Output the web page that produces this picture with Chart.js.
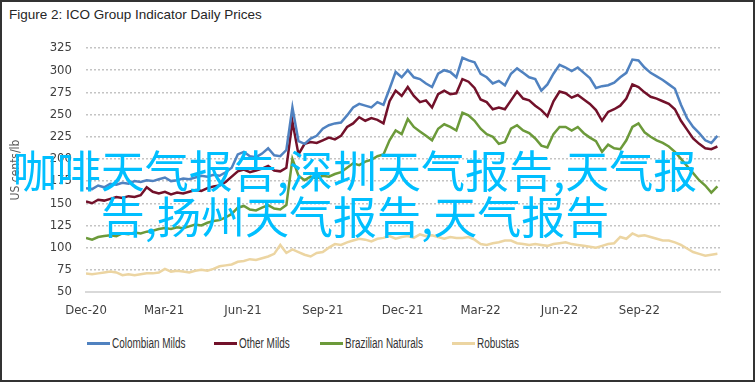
<!DOCTYPE html>
<html>
<head>
<meta charset="utf-8">
<script src="https://cdn.jsdelivr.net/npm/chart.js@4.4.1/dist/chart.umd.min.js"></script>
<style>
  html, body { margin: 0; padding: 0; background: #fff; }
  #page { position: relative; width: 755px; height: 382px; overflow: hidden; background: #fff; }
  #frame { position: absolute; left: 0; top: 0; width: 755px; height: 382px; box-sizing: border-box;
           border: 2px solid #333; pointer-events: none; z-index: 5; }
  #title { position: absolute; left: 9px; top: 7px; font: 13.5px 'Liberation Sans', sans-serif; color: #262626; }
  #chartBox { position: absolute; left: 0; top: 0; width: 755px; height: 330px; }
  #legend { position: absolute; left: 0; top: 334px; width: 755px; height: 18px; }
  .item { position: absolute; top: 0; height: 18px; display: flex; align-items: center;
          font: 14px 'Liberation Sans', sans-serif; color: #333; white-space: nowrap; }
  .swatch { width: 23px; height: 3px; margin-right: 2px; flex: none; }
  .label { display: inline-block; transform: scaleX(0.71); transform-origin: left center; }
  #overlay { position: absolute; left: 0; top: 146px; width: 710px; text-align: center; z-index: 4;
             font: 44px/46px 'Noto Sans CJK SC', sans-serif; color: #00bfff; white-space: normal; }
</style>
</head>
<body>
<div id="page">
  <div id="title">Figure 2: ICO Group Indicator Daily Prices</div>
  <div id="chartBox"><canvas id="prices"></canvas></div>
  <div id="legend"></div>
  <div id="overlay">咖啡天气报告,深圳天气报告,天气报告,扬州天气报告,天气报告</div>
  <div id="frame"></div>
</div>
<script>
// weekly readings, first point = 1 Dec 2020
const colombianMilds = [
  167,166,170,168,172,171,173,172,175,174,176,175,177,179,175,176,178,177,179,181,180,182,181,185,190,205,208,203,202,206,212,204,203,210,258,220,
  217,223,226,234,238,240,241,249,258,262,260,258,264,261,279,298,292,300,292,290,285,281,296,300,298,292,314,311,309,296,292,285,288,283,296,
  302,297,292,290,277,284,296,306,303,299,303,297,291,280,282,283,286,292,297,312,311,303,297,293,289,284,279,261,246,236,229,221,218,226
];
const otherMilds = [
  152,150,154,153,155,157,156,158,157,159,168,163,161,163,160,162,161,163,165,164,167,169,170,174,180,186,188,185,187,189,192,187,186,190,242,205,
  217,219,218,221,224,222,226,236,240,247,243,246,244,240,265,277,271,281,271,264,266,258,273,277,273,274,290,287,280,267,264,256,258,256,266,
  276,268,266,260,255,248,265,276,274,269,272,267,262,255,243,253,256,260,268,284,281,275,270,268,265,262,256,243,233,223,217,212,211,214
];
const brazilianNaturals = [
  111,109,112,113,114,113,116,115,117,116,118,119,121,122,121,123,122,124,126,125,128,130,131,134,138,145,147,143,142,145,148,144,143,148,200,181,
  176,180,178,181,180,183,185,190,195,193,197,199,203,205,221,232,228,245,236,231,226,221,234,239,236,232,252,249,243,234,228,225,217,219,234,
  238,232,229,223,215,213,228,236,236,232,236,229,224,220,208,216,212,211,221,236,240,230,225,221,218,214,208,200,192,184,176,170,162,169
];
const robustas = [
  71,70,71,72,73,72,69,70,69,70,71,71,72,76,73,74,73,72,74,75,74,76,79,80,81,84,85,87,86,88,90,93,103,94,98,95,
  92,90,94,95,100,104,103,106,108,110,109,107,110,111,113,110,112,113,111,115,113,114,112,110,112,111,111,112,109,104,103,105,106,108,108,
  105,104,103,104,103,102,104,105,106,104,103,102,101,100,102,104,105,112,110,116,113,114,112,110,108,108,106,103,99,95,93,91,92,93
];

const seriesNames = ['Colombian Milds', 'Other Milds', 'Brazilian Naturals', 'Robustas'];
const seriesValues = [colombianMilds, otherMilds, brazilianNaturals, robustas];
const seriesColors = ['#5082c0', '#72112a', '#6c9a3a', '#ecd5a2'];

// x axis ticks: days after 1 Dec 2020
const tickDays = [0, 90, 181, 273, 365, 455, 546, 638];
const tickLabels = ['Dec-20', 'Mar-21', 'Jun-21', 'Sep-21', 'Dec-21', 'Mar-22', 'Jun-22', 'Sep-22'];
const DAYS_PER_POINT = 7;

const axisFont = { family: "'Liberation Sans Narrow', 'DejaVu Sans Condensed', 'Liberation Sans', sans-serif", size: 13 };

const datasets = seriesNames.map((name, s) => ({
  label: name,
  data: seriesValues[s].map((v, i) => ({ x: i * DAYS_PER_POINT, y: v })),
  borderColor: seriesColors[s],
  backgroundColor: seriesColors[s],
  borderWidth: 2.5,
  pointRadius: 0,
  tension: 0,
  fill: false
}));

new Chart(document.getElementById('prices'), {
  type: 'line',
  data: { datasets },
  options: {
    responsive: true,
    maintainAspectRatio: false,
    animation: false,
    layout: { padding: { left: 0, right: 35, top: 48, bottom: 10 } },
    plugins: { legend: { display: false }, tooltip: { enabled: false } },
    scales: {
      x: {
        type: 'linear',
        min: 0,
        max: 731,
        grid: { display: false, drawTicks: false },
        border: { display: true, color: '#d9d9d9', width: 2 },
        ticks: {
          padding: 11,
          color: '#404040',
          font: axisFont,
          autoSkip: false,
          maxRotation: 0,
          callback: (v) => tickLabels[tickDays.indexOf(v)] || ''
        },
        afterBuildTicks: (scale) => { scale.ticks = tickDays.map(d => ({ value: d })); },
        afterFit: (scale) => { scale.height = 28; }
      },
      y: {
        min: 50,
        max: 325,
        ticks: { stepSize: 25, padding: 14, color: '#404040', font: axisFont },
        grid: {
          drawTicks: false,
          lineWidth: 1.5,
          color: (ctx) => ctx.tick && ctx.tick.value === 50 ? 'rgba(0,0,0,0)' : '#c4c4c4'
        },
        border: { display: false, dash: [2, 2] },
        title: {
          display: true,
          text: 'US cents/lb',
          color: '#595959',
          font: { family: "'Liberation Sans Narrow', 'DejaVu Sans Condensed', 'Liberation Sans', sans-serif", size: 12 },
          padding: { top: 9, bottom: 0 }
        },
        afterFit: (scale) => { scale.width = 86; }
      }
    }
  }
});

// legend
const legendLeft = [87, 214, 320, 452];
const legend = document.getElementById('legend');
seriesNames.forEach((name, s) => {
  const item = document.createElement('div');
  item.className = 'item';
  item.style.left = legendLeft[s] + 'px';
  const sw = document.createElement('span');
  sw.className = 'swatch';
  sw.style.background = seriesColors[s];
  const txt = document.createElement('span');
  txt.className = 'label';
  txt.textContent = name;
  item.appendChild(sw);
  item.appendChild(txt);
  legend.appendChild(item);
});
</script>
</body>
</html>
